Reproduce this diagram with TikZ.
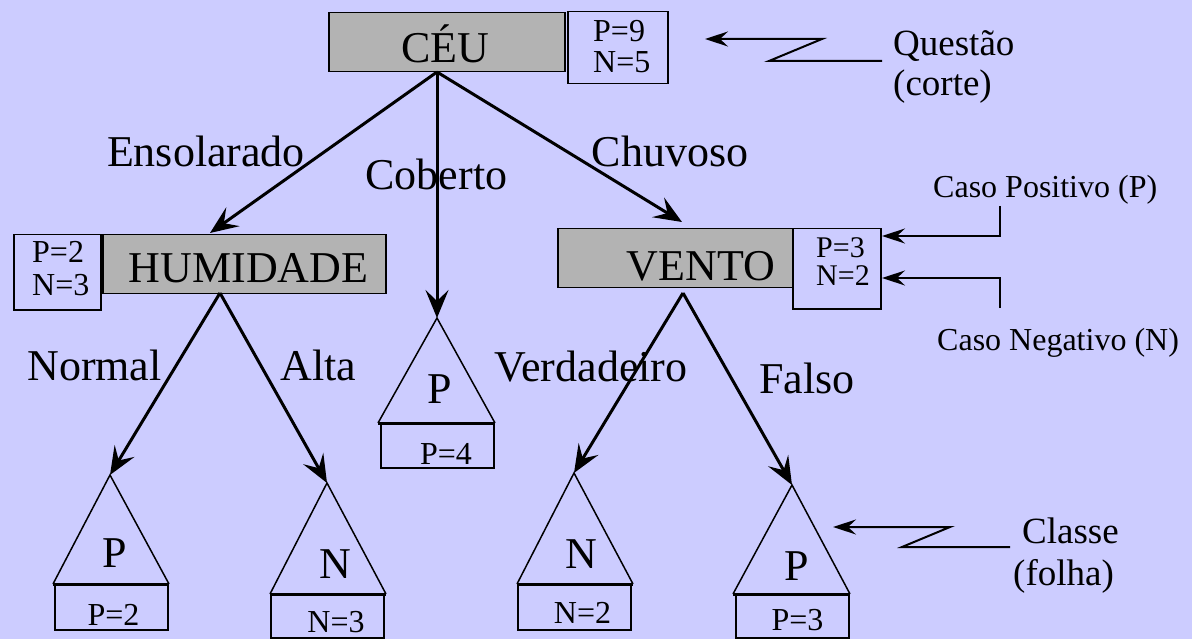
\documentclass[tikz,border=0pt]{standalone}
\usepackage{fontspec}
\setmainfont{Liberation Serif}
\usetikzlibrary{arrows.meta}
\definecolor{bg}{HTML}{CCCCFF}
\definecolor{boxgray}{HTML}{B3B3B3}
\begin{document}
\begin{tikzpicture}[x=1pt,y=-1pt,
  big/.style={font=\fontsize{44}{48}\selectfont, inner sep=0pt},
  small/.style={font=\fontsize{32}{36}\selectfont, inner sep=0pt},
  tight/.style={font=\fontsize{30}{32}\selectfont, inner sep=0pt},
  note/.style={font=\fontsize{37}{40}\selectfont, inner sep=0pt},
  attr/.style={draw=black, fill=boxgray, line width=1.5pt, inner sep=0pt, anchor=north west},
  count/.style={draw=black, line width=1.5pt, inner sep=0pt, anchor=north west},
  branch/.style={line width=3pt, -{Stealth[length=28pt,width=23pt,inset=11pt]}},
  pointer/.style={line width=2pt, -{Stealth[length=23pt,width=15pt,inset=8pt]}},
  leafside/.style={line width=1.5pt, line join=miter},
  leafbase/.style={line width=3pt},
]
\useasboundingbox (0,0) rectangle (1192,639);
\fill[bg] (0,0) rectangle (1192,639);

% attribute (test) boxes
\node[attr, minimum width=236pt, minimum height=59pt] (ceu) at (328,12) {};
\node[attr, minimum width=283pt, minimum height=59pt] (hum) at (102,234) {};
\node[attr, minimum width=235pt, minimum height=59pt] (vento) at (557,228) {};
\node[big, anchor=base] (tceu) at (445.5,63) {CÉU};
\node[big, anchor=base] (thum) at (248.5,283) {HUMIDADE};
\node[big, anchor=base] (tvento) at (701,280) {VENTO};

% count boxes
\node[count, minimum width=100pt, minimum height=72pt] (ceupn) at (567,11) {};
\node[count, minimum width=87pt, minimum height=75pt] (humpn) at (13,234) {};
\node[count, minimum width=88pt, minimum height=80pt] (ventopn) at (792,228) {};
\node[small, anchor=base west] (ceup) at (593,42) {P=9};
\node[small, anchor=base west] (ceun) at (593,73) {N=5};
\node[small, anchor=base west] (hump) at (32,263) {P=2};
\node[small, anchor=base west] (humn) at (32,295) {N=3};
\node[tight, anchor=base west] (ventop) at (816,258) {P=3};
\node[tight, anchor=base west] (venton) at (816,286) {N=2};

% branch anchors
\coordinate (ceuout) at (437,72);
\coordinate (humout) at (220,293);
\coordinate (ventoout) at (683,293);
\coordinate (humin) at (210,233);
\coordinate (ventoin) at (682,222);

% leaves: apex coordinates
\coordinate (a1) at (110,475);
\coordinate (a2) at (327,483);
\coordinate (a3) at (437,318);
\coordinate (a4) at (574,473);
\coordinate (a5) at (792,485);

% leaf triangles
\draw[leafside] (53,584) -- (a1) -- (169,584);
\draw[leafbase] (53,584) -- (169,584);
\node[count, minimum width=113pt, minimum height=45pt] (b1) at (54,584) {};
\draw[leafside] (270,594) -- (a2) -- (386,594);
\draw[leafbase] (270,594) -- (386,594);
\node[count, minimum width=113pt, minimum height=43pt] (b2) at (270,594) {};
\draw[leafside] (378,423) -- (a3) -- (495,423);
\draw[leafbase] (378,423) -- (495,423);
\node[count, minimum width=113pt, minimum height=44pt] (b3) at (380,423) {};
\draw[leafside] (517,584) -- (a4) -- (633,584);
\draw[leafbase] (517,584) -- (633,584);
\node[count, minimum width=113pt, minimum height=45pt] (b4) at (517,584) {};
\draw[leafside] (733,594) -- (a5) -- (850,594);
\draw[leafbase] (733,594) -- (850,594);
\node[count, minimum width=113pt, minimum height=43pt] (b5) at (735,594) {};

% leaf classes and counts
\node[big, anchor=base] (c1) at (114.5,567) {P};
\node[small, anchor=base] (n1) at (113.5,625) {P=2};
\node[big, anchor=base] (c2) at (335,578) {N};
\node[small, anchor=base] (n2) at (336,632) {N=3};
\node[big, anchor=base] (c3) at (440,403) {P};
\node[small, anchor=base] (n3) at (446,464) {P=4};
\node[big, anchor=base] (c4) at (581,568) {N};
\node[small, anchor=base] (n4) at (582.5,623) {N=2};
\node[big, anchor=base] (c5) at (796.5,580) {P};
\node[small, anchor=base] (n5) at (797.5,630) {P=3};

% branches
\draw[branch] (ceuout) -- (humin);
\draw[branch] (ceuout) -- (a3);
\draw[branch] (ceuout) -- (ventoin);
\draw[branch] (humout) -- (a1);
\draw[branch] (humout) -- (a2);
\draw[branch] (ventoout) -- (a4);
\draw[branch] (ventoout) -- (a5);

% branch labels
\node[big, anchor=base] (lens) at (206,167) {Ensolarado};
\node[big, anchor=base] (lcob) at (436.5,190) {Coberto};
\node[big, anchor=base] (lchu) at (670,167) {Chuvoso};
\node[big, anchor=base] (lnor) at (94.5,380) {Normal};
\node[big, anchor=base] (lalt) at (318.5,380) {Alta};
\node[big, anchor=base] (lver) at (591,381) {Verdadeiro};
\node[big, anchor=base] (lfal) at (807,393) {Falso};

% annotations
\node[note, anchor=base west] (quest) at (893,56) {Questão};
\node[note, anchor=base west] (corte) at (893,96) {(corte)};
\coordinate (qfrom) at (882,61);
\coordinate (qto) at (705,39);
\draw[pointer] (qfrom) -- (769,61) -- (822,39) -- (qto);

\node[note, anchor=base west] (classe) at (1022,543) {Classe};
\node[note, anchor=base west] (folha) at (1013,585) {(folha)};
\coordinate (cfrom) at (1010,547);
\coordinate (cto) at (833,527);
\draw[pointer] (cfrom) -- (902,547) -- (950,527) -- (cto);

\node[small, anchor=base west] (casop) at (933,198) {Caso Positivo (P)};
\node[small, anchor=base west] (cason) at (937,350) {Caso Negativo (N)};
\coordinate (pfrom) at (1000,206);
\coordinate (pto) at (882,236);
\coordinate (nfrom) at (1000,308);
\coordinate (nto) at (882,278);
\draw[pointer] (pfrom) |- (pto);
\draw[pointer] (nfrom) |- (nto);
\end{tikzpicture}
\end{document}
